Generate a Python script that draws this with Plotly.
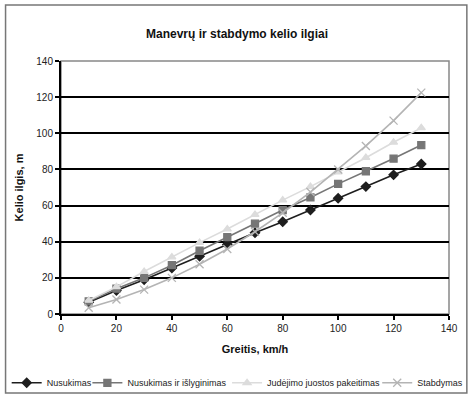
import plotly.graph_objects as go

speed = [10, 20, 30, 40, 50, 60, 70, 80, 90, 100, 110, 120, 130]
nusukimas = [6.5, 13, 19, 25.5, 32, 38.5, 45, 51, 57.5, 64, 70.5, 77, 83]
nusukimas_isl = [7, 14, 20, 27, 35, 42.5, 50, 57.5, 64.5, 72, 79, 86, 93.5]
juostos = [7.5, 15, 23.5, 31.5, 39.5, 47, 55, 63, 70.5, 78.5, 86.5, 95, 103]
stabdymas = [3.5, 8, 13.5, 20, 27.5, 36, 45.5, 56, 67.5, 80, 93, 107, 122.5]

names = ["Nusukimas", "Nusukimas ir išlyginimas", "Judėjimo juostos pakeitimas", "Stabdymas"]
colors = ["#1e1e1e", "#767676", "#dcdcdc", "#b4b4b4"]
symbols = ["diamond", "square", "triangle-up", "x-thin"]
series = [nusukimas, nusukimas_isl, juostos, stabdymas]
legend_ids = ["legend", "legend2", "legend3", "legend4"]
legend_x = [-0.140, 0.068, 0.428, 0.815]

FONT = "Liberation Sans, Arial, sans-serif"

fig = go.Figure()
for name, col, sym, vals, lid in zip(names, colors, symbols, series, legend_ids):
    fig.add_trace(go.Scatter(
        x=speed, y=vals, name=name, mode="lines+markers", legend=lid,
        line=dict(color=col, width=1.6),
        marker=dict(symbol=sym, size=7 if sym != "x-thin" else 8, color=col,
                    line=dict(color=col, width=1.3)),
    ))

legend_common = dict(orientation="h", xanchor="left", y=-0.272, yanchor="middle",
                     font=dict(size=9, family=FONT, color="#222"), itemwidth=30,
                     bgcolor="rgba(0,0,0,0)", borderwidth=0)

layout_legends = {}
for lid, lx in zip(legend_ids, legend_x):
    layout_legends[lid] = dict(legend_common, x=lx)

fig.update_layout(
    width=474, height=410,
    margin=dict(l=60.5, r=25, t=61, b=96, autoexpand=False),
    paper_bgcolor="white", plot_bgcolor="white",
    font=dict(family=FONT, size=10, color="#222"),
    title=dict(text="<b>Manevrų ir stabdymo kelio ilgiai</b>", x=0.5, xanchor="center",
               y=1 - 34 / 410, yanchor="middle", font=dict(size=12, family=FONT, color="#111")),
    showlegend=True,
    xaxis=dict(range=[0, 140], dtick=20, showgrid=False, zeroline=False,
               showline=True, linecolor="black", linewidth=2,
               ticks="outside", ticklen=4, tickcolor="black", tickwidth=1.5,
               tickfont=dict(size=10, family=FONT, color="#222"),
               title=dict(text="<b>Greitis, km/h</b>", font=dict(size=11, family=FONT, color="#111"), standoff=12)),
    yaxis=dict(range=[0, 140], dtick=20, showgrid=True, gridcolor="black", gridwidth=1.5,
               zeroline=False, showline=True, linecolor="black", linewidth=2,
               ticks="outside", ticklen=4, tickcolor="black", tickwidth=1.5,
               tickfont=dict(size=10, family=FONT, color="#222"),
               title=dict(text="<b>Kelio ilgis, m</b>", font=dict(size=11, family=FONT, color="#111"), standoff=10)),
    shapes=[
        dict(type="rect", xref="paper", yref="paper", x0=0, x1=1, y0=0, y1=1,
             line=dict(color="#888", width=1.5), layer="below"),
        dict(type="rect", xref="paper", yref="paper", x0=-0.1429, x1=1.046, y0=-0.312, y1=1.221,
             line=dict(color="#777", width=1.5), layer="below"),
    ],
    **layout_legends,
)

fig.write_html("out.html", config={"displayModeBar": False},
               post_script="document.body.style.margin='0px';")
